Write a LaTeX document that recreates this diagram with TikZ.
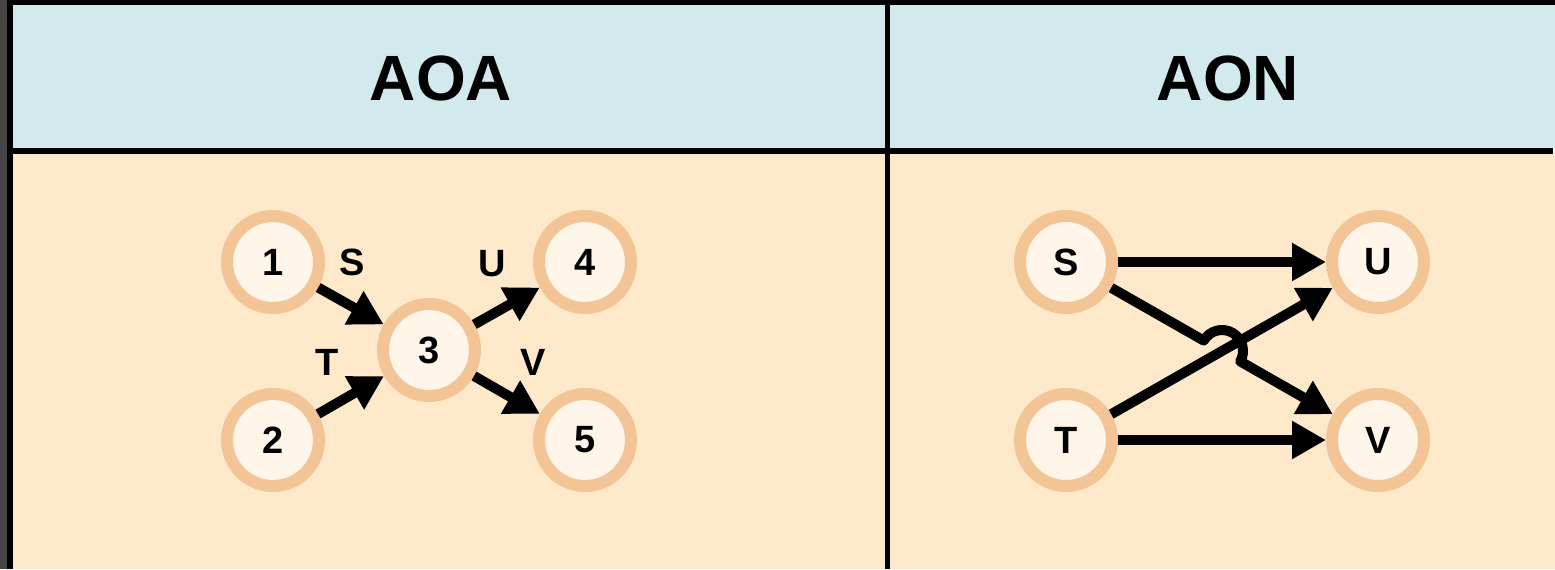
\documentclass[tikz,border=0pt]{standalone}
\usepackage{fontspec}
\setmainfont{Liberation Sans}
\usetikzlibrary{arrows.meta,calc}
\definecolor{headblue}{RGB}{210,234,238}
\definecolor{peach}{RGB}{255,233,203}
\definecolor{ringc}{RGB}{243,196,150}
\definecolor{evfill}{RGB}{255,245,233}
\definecolor{edgegray}{RGB}{68,68,68}
\begin{document}
\begin{tikzpicture}[x=0.5pt, y=0.5pt, line join=round,
  event/.style={circle, draw=ringc, fill=evfill, line width=6pt, minimum size=46pt, inner sep=0pt, font=\bfseries\fontsize{19}{19}\selectfont},
  tag/.style={font=\bfseries\fontsize{19}{19}\selectfont, inner sep=0pt},
  head/.style={font=\bfseries\fontsize{32}{32}\selectfont, inner sep=0pt},
  link/.style={line width=5pt, -{Triangle[length=17pt,width=18pt]}}]
\useasboundingbox (0,0) rectangle (1555,569);
\fill[edgegray] (0,0) rectangle (7,569);
\fill[black] (7,0) rectangle (13,569);
\fill[black] (7,564) rectangle (1555,569);
\fill[headblue] (13,421) rectangle (1555,564);
\fill[peach] (13,0) rectangle (1555,415);
\fill[black] (13,415) rectangle (1553,421);
\fill[black] (885,0) rectangle (890,564);
\node[head] (hAOA) at (441,491) {AOA};
\node[head] (hAON) at (1228,491) {AON};
\node[event] (e1) at (273,307) {1};
\node[event] (e2) at (273,129) {2};
\node[event] (e3) at (429,219) {3};
\node[event] (e4) at (585,307) {4};
\node[event] (e5) at (585,129) {5};
\draw[link] (e1) -- (e3);
\draw[link] (e2) -- (e3);
\draw[link] (e3) -- (e4);
\draw[link] (e3) -- (e5);
\node[tag] (lS) at (352,307) {S};
\node[tag] (lT) at (327,207) {T};
\node[tag] (lU) at (492,305) {U};
\node[tag] (lV) at (533,207) {V};
\node[event] (S) at (1066,307) {S};
\node[event] (T) at (1066,129) {T};
\node[event] (U) at (1378,307) {U};
\node[event] (V) at (1378,129) {V};
\coordinate (X) at ($(S)!0.5!(V)$);
\draw[link] (S) -- (U);
\draw[link] (T) -- (V);
\draw[link] (T) -- (U);
\draw[link] (S) -- ($(X)!10.5pt!(S)$) arc[start angle=150.3, end angle=-29.7, radius=10.5pt] -- (V);
\end{tikzpicture}
\end{document}
